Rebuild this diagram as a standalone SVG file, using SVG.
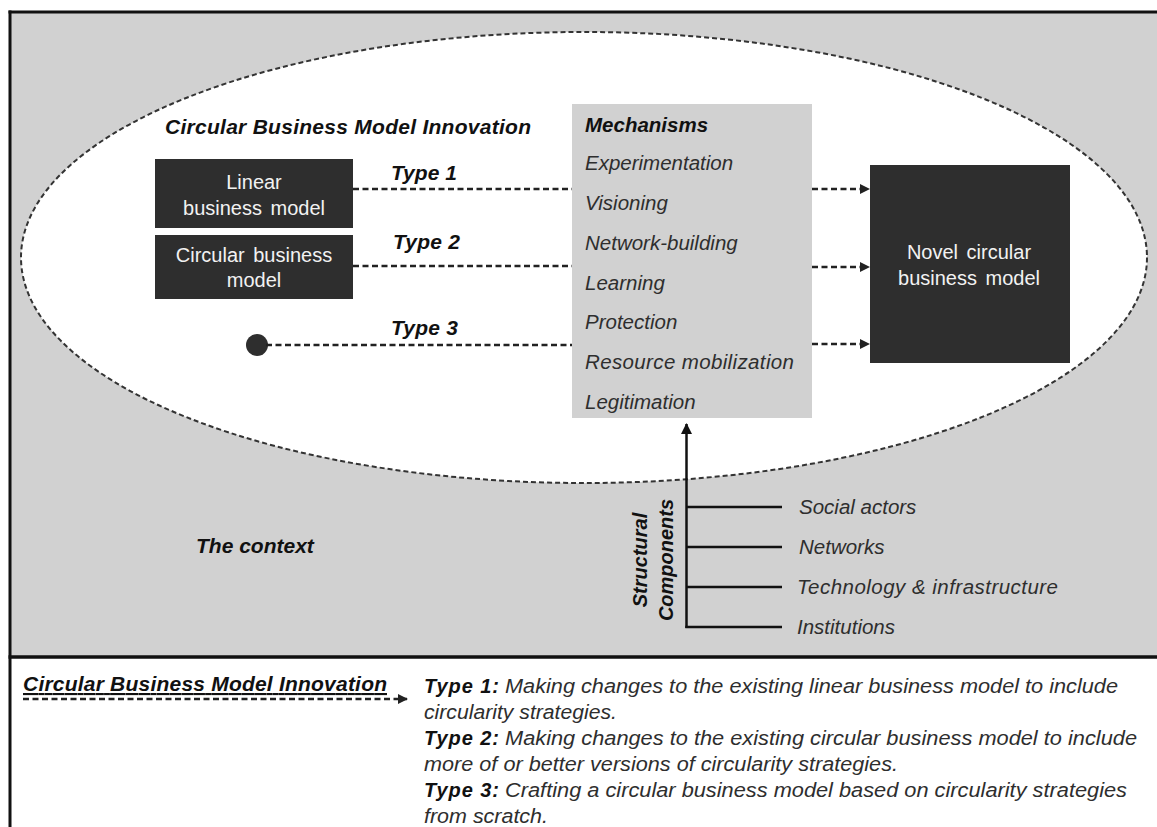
<svg xmlns="http://www.w3.org/2000/svg" width="1157" height="827" viewBox="0 0 1157 827">
  <style>
    .lbl { font-family: "Liberation Sans", Arial, sans-serif; }
    .bi { font-weight: bold; font-style: italic; fill: #111; font-size: 21px; }
    .it { font-style: italic; fill: #2e2e2e; font-size: 20.5px; }
    .wh { fill: #f2f2f2; font-size: 20px; text-anchor: middle; word-spacing: 3px; }
    .dash { stroke: #222; stroke-width: 2.5; stroke-dasharray: 6 3.5; fill: none; }
    .solid { stroke: #111; stroke-width: 2.5; fill: none; }
    .dark { fill: #2e2e2e; }
    .lg { font-size: 20px; }
  </style>
  <defs>
    <marker id="tri" viewBox="0 0 10 10" refX="9" refY="5" markerWidth="10" markerHeight="10" markerUnits="userSpaceOnUse" orient="auto">
      <path d="M0,0 L10,5 L0,10 z" fill="#222"/>
    </marker>
    <marker id="triUp" viewBox="0 0 10 10" refX="9" refY="5" markerWidth="12" markerHeight="11" markerUnits="userSpaceOnUse" orient="auto">
      <path d="M0,0 L10,5 L0,10 z" fill="#111"/>
    </marker>
  </defs>

  <!-- page background -->
  <rect x="0" y="0" width="1157" height="827" fill="#ffffff"/>

  <!-- context panel -->
  <g id="context">
    <rect x="10" y="12" width="1147" height="645" fill="#d1d1d1"/>
    <line x1="8.5" y1="12" x2="1157" y2="12" stroke="#111" stroke-width="3"/>
    <line x1="10" y1="10.5" x2="10" y2="827" stroke="#111" stroke-width="3"/>
    <line x1="8.5" y1="657" x2="1157" y2="657" stroke="#111" stroke-width="3.5"/>
    <text class="lbl bi" x="196" y="553">The context</text>
  </g>

  <!-- innovation ellipse -->
  <g id="innovation">
    <ellipse cx="584" cy="257.5" rx="563" ry="225.5" fill="#ffffff" stroke="#333" stroke-width="2" stroke-dasharray="5 3"/>
    <text class="lbl bi" x="165" y="134" textLength="366" lengthAdjust="spacing">Circular Business Model Innovation</text>
  </g>

  <!-- business model nodes -->
  <g id="linear-bm">
    <rect class="dark" x="155" y="159" width="198" height="69"/>
    <text class="lbl wh" x="254" y="189">Linear</text>
    <text class="lbl wh" x="254" y="215">business model</text>
  </g>
  <g id="circular-bm">
    <rect class="dark" x="155" y="235" width="198" height="64"/>
    <text class="lbl wh" x="254" y="262">Circular business</text>
    <text class="lbl wh" x="254" y="287">model</text>
  </g>
  <g id="start-point">
    <circle cx="257" cy="345" r="11" fill="#2e2e2e"/>
  </g>
  <g id="novel-bm">
    <rect class="dark" x="870" y="165" width="200" height="198"/>
    <text class="lbl wh" x="969" y="259">Novel circular</text>
    <text class="lbl wh" x="969" y="285">business model</text>
  </g>

  <!-- mechanisms -->
  <g id="mechanisms">
    <rect x="572" y="104" width="240" height="314" fill="#d1d1d1"/>
    <text class="lbl bi" x="585" y="132" style="font-size:20.5px">Mechanisms</text>
    <text class="lbl it" x="585" y="170">Experimentation</text>
    <text class="lbl it" x="585" y="210">Visioning</text>
    <text class="lbl it" x="585" y="250">Network-building</text>
    <text class="lbl it" x="585" y="290">Learning</text>
    <text class="lbl it" x="585" y="329">Protection</text>
    <text class="lbl it" x="585" y="369" textLength="209" lengthAdjust="spacing">Resource mobilization</text>
    <text class="lbl it" x="585" y="409">Legitimation</text>
  </g>

  <!-- structural components -->
  <g id="structural">
    <text class="lbl bi" transform="translate(647,560) rotate(-90)" text-anchor="middle" style="font-size:20px">Structural</text>
    <text class="lbl bi" transform="translate(673,560) rotate(-90)" text-anchor="middle" style="font-size:20px">Components</text>
    <text class="lbl it" x="799" y="514">Social actors</text>
    <text class="lbl it" x="799" y="554">Networks</text>
    <text class="lbl it" x="797" y="594" textLength="261" lengthAdjust="spacing">Technology &amp; infrastructure</text>
    <text class="lbl it" x="797" y="634">Institutions</text>
  </g>

  <!-- connectors -->
  <g id="connectors">
    <line class="dash" x1="353" y1="189" x2="572" y2="189"/>
    <line class="dash" x1="353" y1="266" x2="572" y2="266"/>
    <line class="dash" x1="266" y1="345" x2="572" y2="345"/>
    <line class="dash" x1="812" y1="189" x2="869" y2="189" marker-end="url(#tri)"/>
    <line class="dash" x1="812" y1="267" x2="869" y2="267" marker-end="url(#tri)"/>
    <line class="dash" x1="812" y1="344" x2="869" y2="344" marker-end="url(#tri)"/>
    <text class="lbl bi" x="391" y="180" textLength="66" lengthAdjust="spacing">Type 1</text>
    <text class="lbl bi" x="393" y="249" textLength="67" lengthAdjust="spacing">Type 2</text>
    <text class="lbl bi" x="391" y="335" textLength="67" lengthAdjust="spacing">Type 3</text>
    <!-- structural components tree -->
    <polyline class="solid" points="686.5,628 686.5,424" marker-end="url(#triUp)"/>
    <line class="solid" x1="686.5" y1="507" x2="782" y2="507"/>
    <line class="solid" x1="686.5" y1="547" x2="782" y2="547"/>
    <line class="solid" x1="686.5" y1="587" x2="782" y2="587"/>
    <line class="solid" x1="685.3" y1="627" x2="782" y2="627"/>
  </g>

  <!-- legend -->
  <g id="legend">
    <text class="lbl bi" x="23" y="691" text-decoration="underline" textLength="364" lengthAdjust="spacing">Circular Business Model Innovation</text>
    <line class="dash" x1="23" y1="699" x2="407" y2="699" stroke-width="2" stroke-dasharray="5 2.5" marker-end="url(#tri)"/>
    <text class="lbl bi lg" x="424" y="693" textLength="75" lengthAdjust="spacing">Type 1:</text>
    <text class="lbl it lg" x="505" y="693" textLength="613" lengthAdjust="spacingAndGlyphs">Making changes to the existing linear business model to include</text>
    <text class="lbl it lg" x="424" y="719" textLength="193" lengthAdjust="spacingAndGlyphs">circularity strategies.</text>
    <text class="lbl bi lg" x="424" y="745" textLength="75" lengthAdjust="spacing">Type 2:</text>
    <text class="lbl it lg" x="505" y="745" textLength="632" lengthAdjust="spacingAndGlyphs">Making changes to the existing circular business model to include</text>
    <text class="lbl it lg" x="424" y="771" textLength="474" lengthAdjust="spacingAndGlyphs">more of or better versions of circularity strategies.</text>
    <text class="lbl bi lg" x="424" y="797" textLength="75" lengthAdjust="spacing">Type 3:</text>
    <text class="lbl it lg" x="505" y="797" textLength="622" lengthAdjust="spacingAndGlyphs">Crafting a circular business model based on circularity strategies</text>
    <text class="lbl it lg" x="424" y="823" textLength="124" lengthAdjust="spacingAndGlyphs">from scratch.</text>
  </g>
</svg>
